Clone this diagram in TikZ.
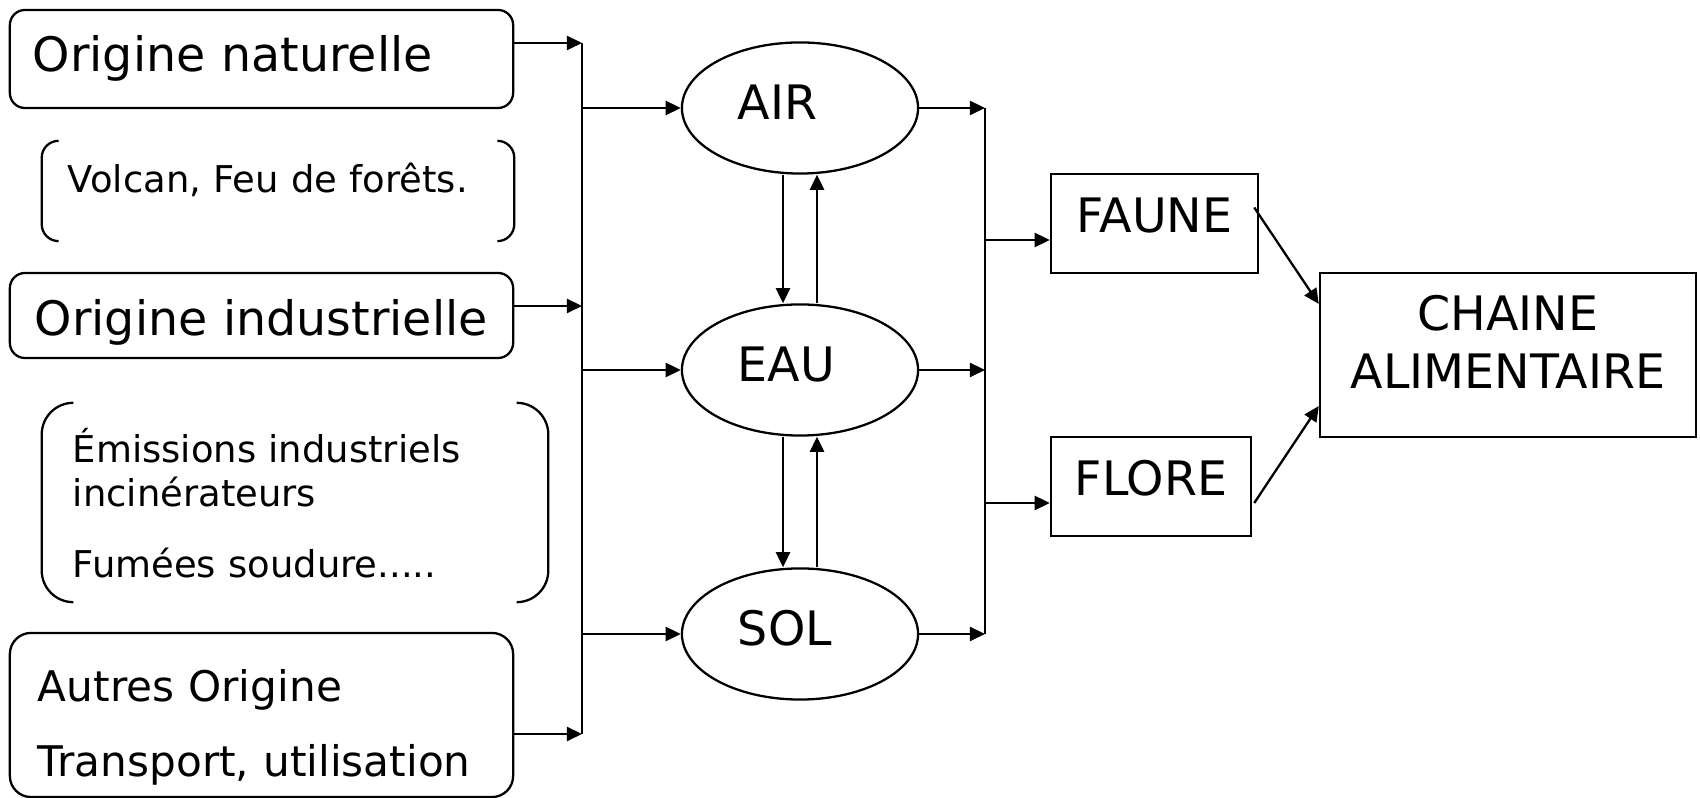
\documentclass[tikz,border=0pt]{standalone}
\usepackage{fontspec}
\setmainfont{DejaVu Sans}
\usetikzlibrary{shapes.geometric,arrows.meta}

\newcommand{\dblbracket}[2]{%
  \draw ([xshift=#2]#1.north west) arc[start angle=90, end angle=180, radius=#2]
    -- ([yshift=#2]#1.south west) arc[start angle=180, end angle=270, radius=#2];
  \draw ([xshift=-#2]#1.north east) arc[start angle=90, end angle=0, radius=#2]
    -- ([yshift=#2]#1.south east) arc[start angle=0, end angle=-90, radius=#2];}

\tikzset{
  origine/.style={draw, rounded corners=4.3pt, minimum width=5.03cm, inner sep=0pt,
    align=left, font=\fontsize{13.5}{21.3}\selectfont, text height=10pt},
  exemple/.style={inner sep=0pt, align=left, font=\fontsize{10.5}{12.5}\selectfont, text height=8pt},
  milieu/.style={draw, ellipse, minimum width=2.36cm, minimum height=1.31cm, inner sep=0pt,
    align=left, text width=1.24cm, font=\fontsize{13.5}{16.2}\selectfont,
    text height=10pt, text depth=3.5pt},
  cible/.style={draw, rectangle, minimum height=0.99cm, inner sep=0pt, align=center,
    font=\fontsize{13.5}{16.5}\selectfont, text height=10pt, text depth=4.9pt}
}

\begin{document}
\begin{tikzpicture}[x=0.01cm, y=-0.01cm, line width=0.65pt, >={Triangle[length=4.3pt,width=4pt]}]
  \useasboundingbox (0,0) rectangle (1700,798);

  \node [origine, minimum height=0.98cm, text width=4.57cm, text depth=2.6pt] (nat) at (261.5,59) {Origine naturelle};
  \node [exemple, minimum width=4.70cm, minimum height=0.98cm, text width=4.2cm, text depth=6.9pt] (volcan) at (278,191) {Volcan, Feu de forêts.};
  \node [origine, minimum height=0.85cm, text width=4.53cm, text height=12pt, text depth=0.9pt] (ind) at (261.5,315.5) {\mbox{Origine industrielle}};
  \node [exemple, minimum width=5.04cm, minimum height=1.97cm, text width=4.44cm, text depth=31pt] (emis) at (295,502.5) {Émissions industriels\\incinérateurs\\[7.7pt]Fumées soudure.....};
  \node [origine, rounded corners=6pt, minimum height=1.64cm, text width=4.47cm, text depth=17.4pt,
    font=\fontsize{12}{21.3}\selectfont] (autres) at (261.5,715) {Autres Origine\\Transport, utilisation};

  \dblbracket{volcan}{4.8pt}
  \dblbracket{emis}{9pt}

  \node [milieu] (air) at (800,108) {AIR};
  \node [milieu] (eau) at (800,370) {EAU};
  \node [milieu] (sol) at (800,634) {SOL};

  \node [cible, minimum width=2.07cm] (faune) at (1154.5,223.5) {FAUNE};
  \node [cible, minimum width=2.00cm] (flore) at (1151,486.5) {FLORE};
  \node [cible, minimum width=3.76cm, minimum height=1.64cm, text width=3.5cm, text depth=24.2pt] (chaine) at (1508,355) {CHAINE\\ALIMENTAIRE};

  \coordinate (g1) at (582,43);
  \coordinate (g2) at (582,306);
  \coordinate (g3) at (582,734);
  \coordinate (d1) at (985,108);
  \coordinate (d2) at (985,240);
  \coordinate (d3) at (985,370);
  \coordinate (d4) at (985,503);
  \coordinate (d5) at (985,634);

  \draw (g1) -- (g3);
  \draw [->] (nat.east |- g1) -- (g1);
  \draw [->] (ind.east |- g2) -- (g2);
  \draw [->] (autres.east |- g3) -- (g3);
  \draw [->] (air.west -| g1) -- (air.west);
  \draw [->] (eau.west -| g1) -- (eau.west);
  \draw [->] (sol.west -| g1) -- (sol.west);

  \draw [->] ([xshift=-0.17cm]air.south) -- ([xshift=-0.17cm]eau.north);
  \draw [->] ([xshift=0.17cm]eau.north) -- ([xshift=0.17cm]air.south);
  \draw [->] ([xshift=-0.17cm]eau.south) -- ([xshift=-0.17cm]sol.north);
  \draw [->] ([xshift=0.17cm]sol.north) -- ([xshift=0.17cm]eau.south);

  \draw (d1) -- (d5);
  \draw [->] (air.east) -- (d1);
  \draw [->] (eau.east) -- (d3);
  \draw [->] (sol.east) -- (d5);
  \draw [->] (d2) -- (faune.west |- d2);
  \draw [->] (d4) -- (flore.west |- d4);

  \draw [->] ([xshift=-0.05cm,yshift=0.16cm]faune.east) -- ([yshift=0.51cm]chaine.west);
  \draw [->] ([xshift=0.02cm,yshift=-0.165cm]flore.east) -- ([yshift=-0.51cm]chaine.west);
\end{tikzpicture}
\end{document}
